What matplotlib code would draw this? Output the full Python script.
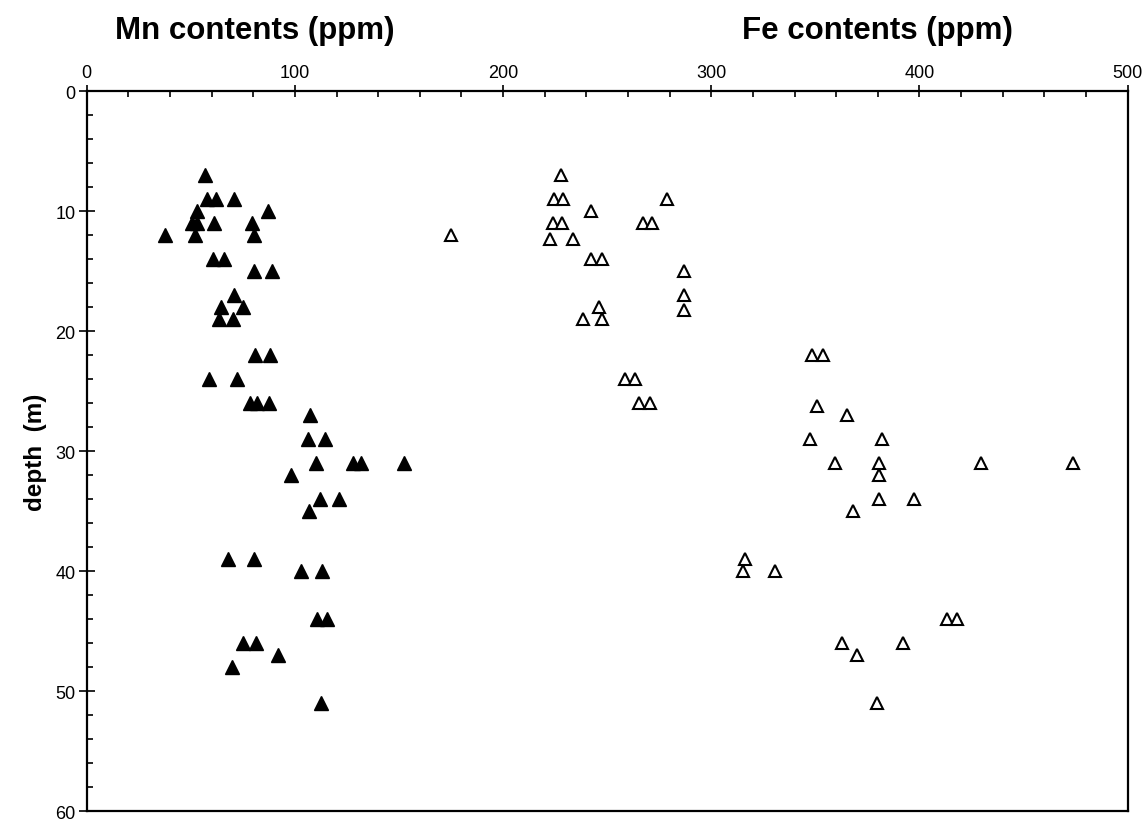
import matplotlib.pyplot as plt
from matplotlib.ticker import MultipleLocator

plt.rcParams['font.family'] = ['Liberation Sans', 'DejaVu Sans']

# Mn contents (ppm) vs depth (m), filled triangles
mn_ppm = [57, 57.6, 62, 71, 53, 87, 50.4, 52.8, 61, 79.4, 37.5, 52, 80.2,
          60.5, 65.8, 80.2, 89, 71, 75, 64.6, 63.5, 70.4, 81, 88, 58.6, 72,
          78.4, 82, 87.4, 107.3, 106.4, 114.5, 110, 127.7, 131.7, 152.4, 98,
          112, 121, 106.6, 68, 80.4, 103, 113.2, 110.8, 115.6, 75.2, 81.5,
          92, 69.8, 112.4]
mn_depth = [7, 9, 9, 9, 10, 10, 11, 11, 11, 11, 12, 12, 12,
            14, 14, 15, 15, 17, 18, 18, 19, 19, 22, 22, 24, 24,
            26, 26, 26, 27, 29, 29, 31, 31, 31, 31, 32,
            34, 34, 35, 39, 39, 40, 40, 44, 44, 46, 46,
            47, 48, 51]

# Fe contents (ppm) vs depth (m), open triangles
fe_ppm = [228, 224.4, 228.6, 278.6, 242, 223.8, 228.3, 267, 271.4, 175,
          222.5, 233.6, 242, 247.4, 287, 287, 287, 246, 238.4, 247.5,
          348.5, 353.5, 258.6, 263.5, 265.4, 270.7, 351, 365.2, 347.4, 381.8,
          359.4, 380.4, 429.5, 473.9, 380.7, 380.7, 397.5, 368.2,
          316, 315.4, 330.7, 413, 418, 363, 392, 369.8, 379.8]
fe_depth = [7, 9, 9, 9, 10, 11, 11, 11, 11, 12,
            12.3, 12.3, 14, 14, 15, 17, 18.2, 18, 19, 19,
            22, 22, 24, 24, 26, 26, 26.2, 27, 29, 29,
            31, 31, 31, 31, 32, 34, 34, 35,
            39, 40, 40, 44, 44, 46, 46, 47, 51]

fig = plt.figure(figsize=(11.48, 8.2), dpi=100)
ax = fig.add_axes([0.0755, 0.0094, 0.9068, 0.878])

ax.plot(mn_ppm, mn_depth, linestyle='none', marker='^', markersize=9.5,
        markerfacecolor='black', markeredgecolor='black')
ax.plot(fe_ppm, fe_depth, linestyle='none', marker='^', markersize=8,
        markerfacecolor='white', markeredgecolor='black', markeredgewidth=1.5)

ax.set_xlim(0, 500)
ax.set_ylim(60, 0)

ax.xaxis.set_major_locator(MultipleLocator(100))
ax.xaxis.set_minor_locator(MultipleLocator(20))
ax.yaxis.set_major_locator(MultipleLocator(10))
ax.yaxis.set_minor_locator(MultipleLocator(2))

ax.tick_params(axis='x', which='both', top=True, bottom=False,
               labeltop=True, labelbottom=False)
ax.tick_params(axis='x', which='major', direction='inout', length=9, width=1.2,
               labelsize=13, pad=3)
ax.tick_params(axis='x', which='minor', direction='in', length=4, width=1.2)
ax.tick_params(axis='y', which='major', direction='inout', length=12, width=1.2,
               labelsize=13, pad=2)
ax.tick_params(axis='y', which='minor', direction='in', length=4, width=1.2)

for s in ax.spines.values():
    s.set_linewidth(1.6)

ax.set_ylabel('depth  (m)', fontsize=17.5, fontweight='bold', labelpad=6)

fig.text(0.222, 0.962, 'Mn contents (ppm)', ha='center', va='center',
         fontsize=22.5, fontweight='bold')
fig.text(0.764, 0.962, 'Fe contents (ppm)', ha='center', va='center',
         fontsize=22.5, fontweight='bold')

fig.savefig('out.png', dpi=100)
